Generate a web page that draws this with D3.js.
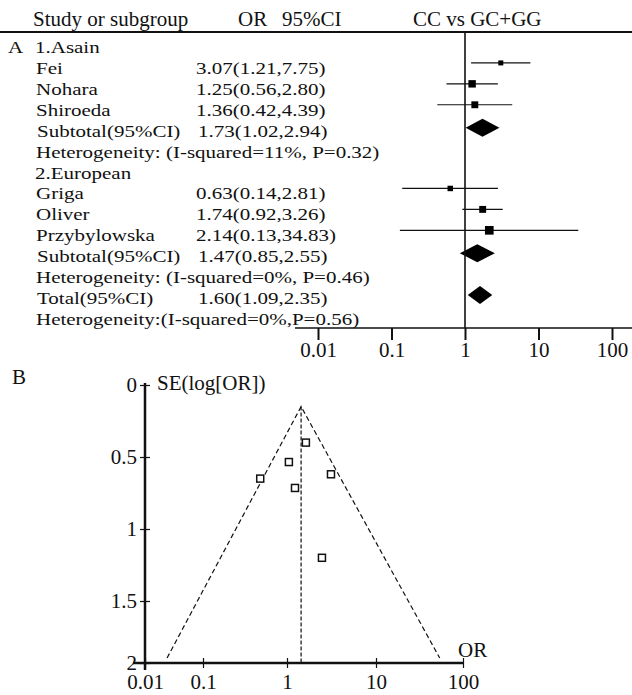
<!DOCTYPE html>
<html>
<head>
<meta charset="utf-8">
<script src="https://cdn.jsdelivr.net/npm/d3@7"></script>
<style>
  body { margin: 0; background: #fff; }
  svg { display: block; font-family: 'Liberation Serif', 'Times New Roman', serif; }
  text { fill: #111; }
</style>
</head>
<body>
<svg id="chart" width="632" height="695"></svg>
<script>
// panel A - forest plot
const groupNames = ['1.Asain', '2.European']
const studies = ['Fei', 'Nohara', 'Shiroeda', 'Griga', 'Oliver', 'Przybylowska']
const studyGroup = [0, 0, 0, 1, 1, 1]
const studyOR = [3.07, 1.25, 1.36, 0.63, 1.74, 2.14]
const studyLow = [1.21, 0.56, 0.42, 0.14, 0.92, 0.13]
const studyHigh = [7.75, 2.80, 4.39, 2.81, 3.26, 34.83]
const studyWeight = [10, 22, 19, 12, 19, 30]

const pooledNames = ['Subtotal(95%CI)', 'Subtotal(95%CI)', 'Total(95%CI)']
const pooledOR = [1.73, 1.47, 1.60]
const pooledLow = [1.02, 0.85, 1.09]
const pooledHigh = [2.94, 2.55, 2.35]
const hetText = [
  'Heterogeneity: (I-squared=11%, P=0.32)',
  'Heterogeneity: (I-squared=0%, P=0.46)',
  'Heterogeneity:(I-squared=0%,P=0.56)'
]
const orTicks = [0.01, 0.1, 1, 10, 100]

// panel B - funnel plot
const funnelOR = [0.48, 1.05, 1.23, 1.63, 3.12, 2.47]
const funnelSE = [0.65, 0.535, 0.715, 0.40, 0.62, 1.20]
const funnelBoundOR = [0.024, 1.44, 54]
const funnelBoundSE = [1.96, 0.15, 1.96]
const seTicks = [0, 0.5, 1, 1.5, 2]

const svg = d3.select('#chart')
const fmt = d3.format('.2f')
const W = 632

// ---------- A ----------
let rows = []
groupNames.forEach((g, gi) => {
  rows.push({kind: 'group', label: g, gi: gi})
  studies.forEach((s, i) => { if (studyGroup[i] === gi) rows.push({kind: 'study', i: i}) })
  rows.push({kind: 'pooled', i: gi})
  rows.push({kind: 'het', i: gi})
})
rows.push({kind: 'pooled', i: 2})
rows.push({kind: 'het', i: 2})

const rowY = d3.scaleLinear().domain([0, rows.length - 1]).range([53, 325])
const xF = d3.scaleLog().domain([0.01, 100]).range([318, 612])
const boxSize = d3.scaleSqrt().domain([0, 40]).range([0, 10])

const A = svg.append('g')

// header
A.append('text').attr('x', 33).attr('y', 26).style('font-size', '21px').text('Study or subgroup')
A.append('text').attr('x', 238).attr('y', 26).style('font-size', '21px').text('OR')
A.append('text').attr('x', 282).attr('y', 26).style('font-size', '21px').text('95%CI')
A.append('text').attr('x', 413).attr('y', 26).style('font-size', '21px').text('CC vs GC+GG')
A.append('line').attr('x1', 0).attr('x2', W).attr('y1', 32).attr('y2', 32)
  .attr('stroke', '#111').attr('stroke-width', 2)

function rowText (x, y, str) {
  A.append('text')
    .attr('transform', 'translate(' + x + ',' + y + ') scale(1,0.8)')
    .style('font-size', '21px')
    .text(str)
}

rowText(8, rowY(0), 'A')

rows.forEach((r, idx) => {
  let y = rowY(idx)
  let my = y - 11
  if (r.kind === 'group') {
    rowText(35, y, r.label)
  } else if (r.kind === 'study') {
    let i = r.i
    rowText(36, y, studies[i])
    rowText(196, y, fmt(studyOR[i]) + '(' + fmt(studyLow[i]) + ',' + fmt(studyHigh[i]) + ')')
    A.append('line')
      .attr('x1', xF(studyLow[i])).attr('x2', xF(studyHigh[i]))
      .attr('y1', my).attr('y2', my)
      .attr('stroke', '#111').attr('stroke-width', 1.2)
    let s = boxSize(studyWeight[i])
    A.append('rect')
      .attr('x', xF(studyOR[i]) - s / 2).attr('y', my - s / 2)
      .attr('width', s).attr('height', s)
      .attr('fill', '#000')
  } else if (r.kind === 'pooled') {
    let i = r.i
    rowText(37, y, pooledNames[i])
    rowText(198, y, fmt(pooledOR[i]) + '(' + fmt(pooledLow[i]) + ',' + fmt(pooledHigh[i]) + ')')
    let cy = my + 2
    let pts = [[xF(pooledLow[i]), cy], [xF(pooledOR[i]), cy - 9], [xF(pooledHigh[i]), cy], [xF(pooledOR[i]), cy + 9]]
    A.append('path').attr('d', 'M' + pts.join('L') + 'Z').attr('fill', '#000')
  } else {
    rowText(36, y, hetText[r.i])
  }
})

// null line + axis
const axisY = 328
A.append('line')
  .attr('x1', xF(1)).attr('x2', xF(1)).attr('y1', 32).attr('y2', axisY)
  .attr('stroke', '#111').attr('stroke-width', 1.6)

A.append('line')
  .attr('x1', xF(0.01) - 23).attr('x2', W).attr('y1', axisY).attr('y2', axisY)
  .attr('stroke', '#111').attr('stroke-width', 1.6)

const axA = A.append('g')
  .attr('transform', 'translate(0,' + axisY + ')')
  .call(d3.axisBottom(xF).tickValues(orTicks).tickFormat(d => String(d)).tickSize(12).tickPadding(2))
axA.select('.domain').remove()
axA.selectAll('line').attr('stroke', '#111').attr('stroke-width', 2)
axA.selectAll('text').style('font-size', '21px').style('font-family', "'Liberation Serif', serif").attr('fill', '#111')

// ---------- B ----------
const B = svg.append('g')
B.append('text').attr('x', 12).attr('y', 384).style('font-size', '21px').text('B')

const xB = d3.scaleLog().domain([0.01, 0.1, 1, 10, 100]).range([145, 203, 287, 376, 463])
const yB = d3.scaleLinear().domain([0, 0.5, 1, 1.5, 2]).range([385, 457, 529, 601, 663])

B.append('line')
  .attr('x1', xB(0.01)).attr('x2', xB(0.01)).attr('y1', yB(0) - 2).attr('y2', yB(2) + 7)
  .attr('stroke', '#111').attr('stroke-width', 2.5)
B.append('line')
  .attr('x1', xB(0.01) - 12).attr('x2', xB(100)).attr('y1', yB(2)).attr('y2', yB(2))
  .attr('stroke', '#111').attr('stroke-width', 2.5)

const axBx = B.append('g')
  .attr('transform', 'translate(0,' + yB(2) + ')')
  .call(d3.axisBottom(xB).tickValues(orTicks).tickFormat(d => String(d)).tickSize(5).tickPadding(6))
axBx.select('.domain').remove()
axBx.selectAll('line').attr('y1', -5).attr('stroke', '#111').attr('stroke-width', 1.2)
axBx.selectAll('text').style('font-size', '21px').style('font-family', "'Liberation Serif', serif").attr('fill', '#111')

const axBy = B.append('g')
  .attr('transform', 'translate(' + xB(0.01) + ',0)')
  .call(d3.axisLeft(yB).tickValues(seTicks).tickFormat(d => String(d)).tickSize(5).tickPadding(3))
axBy.select('.domain').remove()
axBy.selectAll('line').attr('x1', 5).attr('stroke', '#111').attr('stroke-width', 1.2)
axBy.selectAll('text').style('font-size', '21px').style('font-family', "'Liberation Serif', serif").attr('fill', '#111')

B.append('text').attr('x', 157).attr('y', 390).style('font-size', '21px').text('SE(log[OR])')
B.append('text').attr('x', 458).attr('y', 657).style('font-size', '21px').text('OR')

// funnel
const funnelLine = d3.line().x(d => xB(d[0])).y(d => yB(d[1]))
B.append('path')
  .attr('d', funnelLine(d3.zip(funnelBoundOR, funnelBoundSE)))
  .attr('fill', 'none').attr('stroke', '#111').attr('stroke-width', 1.2).attr('stroke-dasharray', '5,3')
B.append('path')
  .attr('d', funnelLine([[funnelBoundOR[1], funnelBoundSE[1]], [funnelBoundOR[1], 2]]))
  .attr('fill', 'none').attr('stroke', '#111').attr('stroke-width', 1.2).attr('stroke-dasharray', '4,2')

B.selectAll('.pt')
  .data(d3.zip(funnelOR, funnelSE))
  .enter().append('rect')
  .attr('class', 'pt')
  .attr('x', d => xB(d[0]) - 3.5).attr('y', d => yB(d[1]) - 3.5)
  .attr('width', 7).attr('height', 7)
  .attr('fill', '#fff').attr('stroke', '#111').attr('stroke-width', 1.5)
</script>
</body>
</html>
